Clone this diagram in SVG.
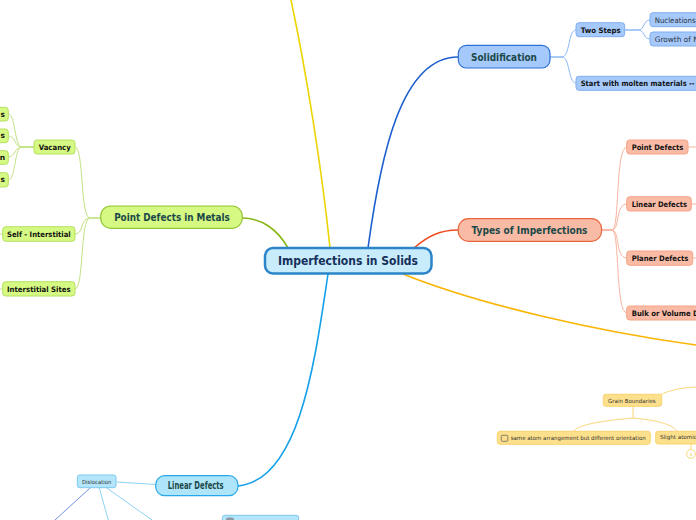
<svg xmlns="http://www.w3.org/2000/svg" width="696" height="520" viewBox="0 0 696 520">
<style>
text{font-family:"DejaVu Sans","Verdana",sans-serif;}
.main{font-weight:bold;font-size:10px;fill:#1b4848;}
.sub{font-weight:bold;font-size:7.5px;fill:#111;}
.leaf{font-size:7.5px;fill:#2a3340;}
.tiny{font-size:5.6px;fill:#333;}
.c{fill:none;stroke-width:1.6;}
.cs{fill:none;stroke-width:1;}
.blueN{fill:#a6c9fb;stroke:#2d6fd8;stroke-width:1.2;}
.blueS{fill:#a6c9fb;stroke:#80aff0;stroke-width:1;}
.redN{fill:#f9bba6;stroke:#e9653d;stroke-width:1.2;}
.redS{fill:#f9bba6;stroke:#f5a486;stroke-width:1;}
.grnN{fill:#d5f982;stroke:#92c632;stroke-width:1.2;}
.grnS{fill:#d5f982;stroke:#b6e062;stroke-width:1;}
.cyanN{fill:#aee5fb;stroke:#28a8ea;stroke-width:1.2;}
.cyanS{fill:#b4e6fb;stroke:#7cc8f0;stroke-width:1;}
.yelS{fill:#fde08c;stroke:#f9d36e;stroke-width:1;}
</style>
<rect width="696" height="520" fill="#ffffff"/>
<g id="connectors">
  <path class="c" stroke="#ecd400" d="M330,248 C322,170 306,70 291,0"/>
  <path class="c" stroke="#1d5fcf" d="M368,248 C380,160 400,57 458,57"/>
  <path class="c" stroke="#f04c20" d="M414,248 C428,236 440,230 458,230"/>
  <path class="c" stroke="#f9b500" d="M403,274 C480,305 600,332 696,345"/>
  <path class="c" stroke="#88b818" d="M242,218 C262,218 278,230 288,248"/>
  <path class="c" stroke="#14a0ea" d="M328,274 C315,360 300,480 238,486"/>
  <g stroke="#8ab8f4" class="cs">
    <path d="M550,57 L562,57 C570,57 568,30 576,30"/>
    <path d="M550,57 L562,57 C570,57 568,83 576,83"/>
    <path d="M625,30 L638,30 C645,30 643,20 650,20"/>
    <path d="M625,30 L638,30 C645,30 643,39 650,39"/>
  </g>
  <g stroke="#f8b4a0" class="cs">
    <path d="M601,230 L612,230 C620,230 615,147 627,147"/>
    <path d="M601,230 L612,230 C620,230 615,204 627,204"/>
    <path d="M601,230 L612,230 C620,230 615,258 627,258"/>
    <path d="M601,230 L612,230 C620,230 615,313 627,313"/>
    <path d="M688,147 L696,147"/>
    <path d="M691,204 L696,204"/>
    <path d="M692,258 L696,258"/>
  </g>
  <g stroke="#c2e284" class="cs">
    <path d="M101,218 L90,218 C80,218 84,147 75,147"/>
    <path d="M101,218 L90,218 C80,218 84,234 75,234"/>
    <path d="M101,218 L90,218 C80,218 84,289 75,289"/>
    <path d="M34,147 L22,147 C14,147 16,114 8,114"/>
    <path d="M34,147 L22,147 C14,147 16,136 8,136"/>
    <path d="M34,147 L22,147 C14,147 16,157 8,157"/>
    <path d="M34,147 L22,147 C14,147 16,180 8,180"/>
    <path d="M2.7,234 L0,234"/>
    <path d="M2.7,289 L0,289"/>
  </g>
  <path class="cs" stroke="#8cd2f4" d="M156,484.5 L116.5,482"/>
  <path class="cs" stroke="#7090dc" d="M90,488 L55,520"/>
  <path class="cs" stroke="#8cd2f4" d="M99.3,488 L108.3,520"/>
  <path class="cs" stroke="#8cd2f4" d="M106.7,488 L152,520"/>
  <g stroke="#fbd77a" class="cs">
    <path d="M660,395 C670,390 680,388 696,387"/>
    <path d="M633,406 L633,418 C610,420 578,424 574,431"/>
    <path d="M633,418 C655,420 672,424 677,431"/>
    <path d="M691,444 L691,449.5"/>
  </g>
</g>

<g id="center">
  <rect x="265" y="248" width="166.5" height="25.5" rx="8" fill="#c8ecfc" stroke="#2b85c8" stroke-width="2.5"/>
  <text x="348" y="265" text-anchor="middle" font-weight="bold" font-size="11.5" fill="#15305a" textLength="140" lengthAdjust="spacingAndGlyphs">Imperfections in  Solids</text>
</g>

<g id="solidification">
  <rect class="blueN" x="458.3" y="45.3" width="91.7" height="22.7" rx="8"/>
  <text class="main" x="504" y="61" text-anchor="middle" textLength="66" lengthAdjust="spacingAndGlyphs">Solidification</text>
</g>
<g id="two-steps">
  <rect class="blueS" x="576" y="22.7" width="48.7" height="14" rx="3"/>
  <text class="sub" x="580.7" y="33.3" textLength="40" lengthAdjust="spacingAndGlyphs">Two Steps</text>
</g>
<g id="nucleations">
  <rect class="blueS" x="650" y="12.7" width="60" height="14" rx="3"/>
  <text class="leaf" x="654.7" y="22.7" textLength="41" lengthAdjust="spacingAndGlyphs">Nucleations</text>
</g>
<g id="growth">
  <rect class="blueS" x="650" y="32" width="60" height="14" rx="3"/>
  <text class="leaf" x="654.7" y="42" textLength="44" lengthAdjust="spacingAndGlyphs">Growth of N</text>
</g>
<g id="start-molten">
  <rect class="blueS" x="576" y="76.3" width="130" height="14" rx="3"/>
  <text class="sub" x="580.7" y="86" textLength="114" lengthAdjust="spacingAndGlyphs">Start with molten materials --</text>
</g>

<g id="types">
  <rect class="redN" x="458.3" y="218.7" width="143.3" height="22.6" rx="10"/>
  <text class="main" x="529.5" y="233.5" text-anchor="middle" textLength="116" lengthAdjust="spacingAndGlyphs">Types of Imperfections</text>
</g>
<g id="point-defects">
  <rect class="redS" x="626.7" y="140" width="61.3" height="14" rx="3"/>
  <text class="sub" x="631.7" y="149.8" textLength="51.7" lengthAdjust="spacingAndGlyphs">Point Defects</text>
</g>
<g id="linear-defects-type">
  <rect class="redS" x="626.7" y="196.7" width="64.6" height="14.3" rx="3"/>
  <text class="sub" x="631.7" y="206.6" textLength="55.3" lengthAdjust="spacingAndGlyphs">Linear Defects</text>
</g>
<g id="planer-defects">
  <rect class="redS" x="626.7" y="251" width="66" height="14.3" rx="3"/>
  <text class="sub" x="631.7" y="260.8" textLength="56.7" lengthAdjust="spacingAndGlyphs">Planer Defects</text>
</g>
<g id="bulk-defects">
  <rect class="redS" x="626.7" y="306" width="80" height="14" rx="3"/>
  <text class="sub" x="631.7" y="315.8" textLength="67" lengthAdjust="spacingAndGlyphs">Bulk or Volume D</text>
</g>

<g id="point-defects-metals">
  <rect class="grnN" x="100.7" y="206" width="141.6" height="22.3" rx="10"/>
  <text class="main" x="172" y="221" text-anchor="middle" textLength="115.7" lengthAdjust="spacingAndGlyphs">Point Defects in Metals</text>
</g>
<g id="vacancy">
  <rect class="grnS" x="34" y="140" width="41" height="14" rx="3"/>
  <text class="sub" x="38.7" y="149.8" textLength="32" lengthAdjust="spacingAndGlyphs">Vacancy</text>
</g>
<g id="self-interstitial">
  <rect class="grnS" x="2.7" y="226.7" width="72.3" height="14.6" rx="3"/>
  <text class="sub" x="7" y="237" textLength="63.7" lengthAdjust="spacingAndGlyphs">Self - Interstitial</text>
</g>
<g id="interstitial-sites">
  <rect class="grnS" x="2.7" y="281.7" width="72.3" height="14.3" rx="3"/>
  <text class="sub" x="7" y="292" textLength="63.7" lengthAdjust="spacingAndGlyphs">Interstitial Sites</text>
</g>
<g id="vacancy-1">
  <rect class="grnS" x="-20" y="107.3" width="28.3" height="13.7" rx="3"/>
  <text class="sub" x="5" y="116.7" text-anchor="end">s</text>
</g>
<g id="vacancy-2">
  <rect class="grnS" x="-20" y="129" width="28.3" height="13.7" rx="3"/>
  <text class="sub" x="5" y="138.4" text-anchor="end">s</text>
</g>
<g id="vacancy-3">
  <rect class="grnS" x="-20" y="150.7" width="28.3" height="13.6" rx="3"/>
  <text class="sub" x="5.2" y="160" text-anchor="end">n</text>
</g>
<g id="vacancy-4">
  <rect class="grnS" x="-20" y="172.7" width="28.3" height="14.3" rx="3"/>
  <text class="sub" x="5" y="182" text-anchor="end">s</text>
</g>

<g id="grain-boundaries">
  <rect class="yelS" x="603.3" y="394.3" width="58.4" height="12" rx="2.5"/>
  <text class="tiny" x="608" y="402.7" textLength="47.7" lengthAdjust="spacingAndGlyphs">Grain Boundaries</text>
</g>
<g id="same-atom">
  <rect class="yelS" x="497.3" y="431.3" width="153" height="13" rx="2.5"/>
  <rect x="501.3" y="435.3" width="6.5" height="6" rx="1" fill="none" stroke="#555" stroke-width="0.7"/>
  <text class="tiny" x="510.7" y="440.3" textLength="135" lengthAdjust="spacingAndGlyphs">same atom arrangement but different orientation</text>
</g>
<g id="slight-atomic">
  <rect class="yelS" x="655.7" y="431.3" width="60" height="12.7" rx="2.5"/>
  <text class="tiny" x="660" y="439.3">Slight atomic</text>
  <circle cx="691" cy="454" r="4.4" fill="#fff" stroke="#fbd77a" stroke-width="1"/>
  <text x="691" y="456" text-anchor="middle" font-size="4.5" fill="#f0c040">3</text>
</g>

<g id="linear-defects">
  <rect class="cyanN" x="155.7" y="475.7" width="82.3" height="20" rx="9"/>
  <text class="main" x="195.7" y="488.8" text-anchor="middle" font-size="9" textLength="56" lengthAdjust="spacingAndGlyphs">Linear Defects</text>
</g>
<g id="dislocation">
  <rect class="cyanS" x="77.3" y="475" width="38.7" height="12.7" rx="2.5"/>
  <text class="tiny" x="82" y="483.5" textLength="29.3" lengthAdjust="spacingAndGlyphs">Dislocation</text>
</g>
<g id="bottom-node">
  <rect class="cyanS" x="222.3" y="515.3" width="76.4" height="12" rx="2.5"/>
  <rect x="226" y="517.5" width="8" height="6" rx="2" fill="#8a9aa6"/>
</g>
</svg>
